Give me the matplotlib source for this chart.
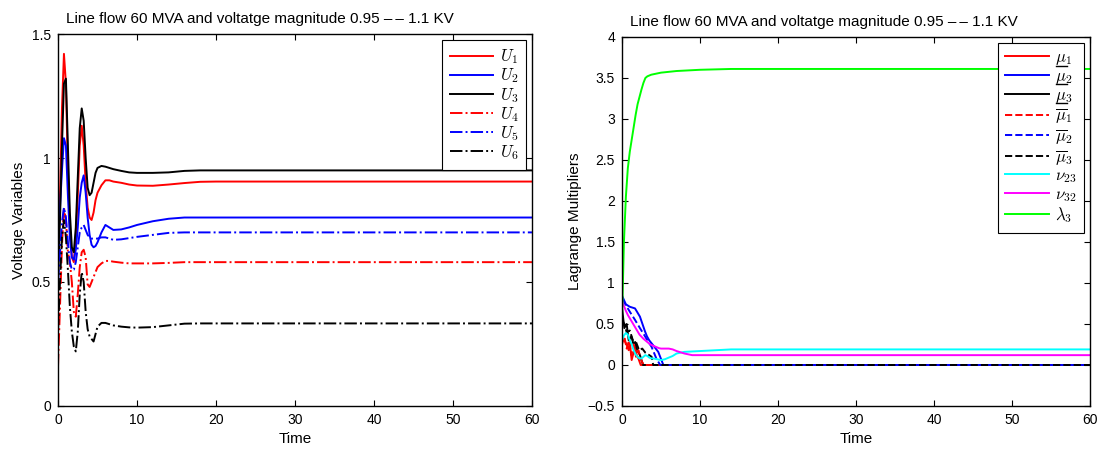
import matplotlib
matplotlib.use("Agg")
import matplotlib.pyplot as plt
from matplotlib.lines import Line2D
from matplotlib.transforms import IdentityTransform

matplotlib.rcParams['font.family'] = 'Liberation Sans'
matplotlib.rcParams['mathtext.fontset'] = 'cm'
matplotlib.rcParams['axes.linewidth'] = 1.0

# ---- left panel: voltage variables ----
t_u = [0, 0.25, 0.5, 0.75, 1.0, 1.25, 1.5, 1.75, 2.0, 2.25, 2.5, 2.75, 3.0, 3.25,
       3.5, 3.75, 4.0, 4.25, 4.5, 4.75, 5.0, 5.5, 6.0, 6.5, 7, 8, 9, 10, 12, 14,
       16, 18, 20, 60]
u1 = [0.60, 0.85, 1.20, 1.42, 1.30, 0.95, 0.72, 0.60, 0.58, 0.68, 0.85, 1.05, 1.13,
      1.05, 0.90, 0.80, 0.76, 0.75, 0.78, 0.83, 0.86, 0.89, 0.91, 0.91, 0.905, 0.90,
      0.893, 0.889, 0.888, 0.893, 0.899, 0.904, 0.905, 0.905]
u2 = [0.70, 0.80, 0.95, 1.08, 1.05, 0.85, 0.68, 0.60, 0.59, 0.63, 0.72, 0.84, 0.90,
      0.93, 0.86, 0.76, 0.69, 0.65, 0.64, 0.645, 0.66, 0.70, 0.73, 0.72, 0.71, 0.712,
      0.72, 0.73, 0.745, 0.755, 0.76, 0.76, 0.76, 0.76]
u3 = [0.50, 0.75, 1.05, 1.30, 1.32, 1.05, 0.78, 0.64, 0.62, 0.72, 0.92, 1.12, 1.20,
      1.15, 1.00, 0.88, 0.85, 0.86, 0.90, 0.94, 0.96, 0.968, 0.965, 0.96, 0.955, 0.948,
      0.942, 0.94, 0.94, 0.942, 0.948, 0.95, 0.95, 0.95]
u4 = [0.16, 0.40, 0.65, 0.80, 0.75, 0.62, 0.58, 0.50, 0.38, 0.36, 0.45, 0.56, 0.62,
      0.63, 0.60, 0.49, 0.48, 0.50, 0.52, 0.54, 0.56, 0.575, 0.585, 0.585, 0.582, 0.578,
      0.575, 0.575, 0.575, 0.577, 0.58, 0.58, 0.58, 0.58]
u5 = [0.50, 0.62, 0.74, 0.80, 0.76, 0.66, 0.58, 0.55, 0.55, 0.58, 0.64, 0.70, 0.72,
      0.73, 0.71, 0.69, 0.68, 0.675, 0.675, 0.675, 0.675, 0.68, 0.68, 0.675, 0.67, 0.672,
      0.677, 0.682, 0.69, 0.698, 0.70, 0.70, 0.70, 0.70]
u6 = [0.30, 0.50, 0.68, 0.75, 0.68, 0.55, 0.40, 0.30, 0.24, 0.22, 0.30, 0.45, 0.54,
      0.50, 0.38, 0.31, 0.28, 0.27, 0.26, 0.29, 0.32, 0.335, 0.335, 0.33, 0.325, 0.32,
      0.317, 0.316, 0.318, 0.325, 0.332, 0.333, 0.333, 0.333]

# ---- right panel: Lagrange multipliers ----
t_lam = t_u
lam3 = [0.55, 1.50, 2.05, 2.40, 2.60, 2.75, 2.90, 3.05, 3.18, 3.27, 3.36, 3.44, 3.50,
        3.52, 3.53, 3.54, 3.545, 3.55, 3.555, 3.56, 3.565, 3.57, 3.575, 3.58, 3.585,
        3.59, 3.595, 3.60, 3.605, 3.61, 3.61, 3.61, 3.61, 3.61]
nu23 = [0.30, 0.36, 0.39, 0.37, 0.30, 0.25, 0.18, 0.13, 0.10, 0.08, 0.08, 0.10, 0.12,
        0.11, 0.09, 0.08, 0.08, 0.075, 0.07, 0.065, 0.06, 0.07, 0.09, 0.11, 0.14, 0.16,
        0.165, 0.17, 0.18, 0.19, 0.19, 0.19, 0.19, 0.19]
nu32 = [0.78, 0.72, 0.66, 0.61, 0.57, 0.53, 0.49, 0.45, 0.41, 0.37, 0.345, 0.32, 0.30,
        0.28, 0.26, 0.245, 0.235, 0.225, 0.215, 0.205, 0.20, 0.20, 0.20, 0.19, 0.17,
        0.14, 0.12, 0.12, 0.12, 0.12, 0.12, 0.12, 0.12, 0.12]

t_mu1 = [0, 0.3, 0.6, 0.86, 1.0, 1.24, 1.67, 1.9, 2.1, 2.4, 60]
mu1 = [0.30, 0.30, 0.25, 0.18, 0.28, 0.06, 0.22, 0.12, 0.08, 0, 0]
t_mu2 = [0, 0.17, 0.5, 1.0, 1.67, 2.3, 2.95, 3.2, 3.5, 4.0, 4.65, 5.1, 5.3, 60]
mu2 = [0.85, 0.81, 0.74, 0.71, 0.69, 0.59, 0.41, 0.35, 0.30, 0.24, 0.16, 0.05, 0, 0]
t_mu3 = [0, 0.3, 0.6, 0.86, 1.2, 1.45, 1.7, 1.9, 2.3, 2.7, 60]
mu3 = [0.70, 0.45, 0.50, 0.30, 0.35, 0.26, 0.28, 0.20, 0.12, 0, 0]
t_mub1 = [0, 0.3, 0.6, 0.9, 1.2, 1.5, 1.8, 2.1, 2.5, 2.8, 60]
mub1 = [0.25, 0.35, 0.20, 0.30, 0.12, 0.25, 0.10, 0.18, 0.05, 0, 0]
t_mub2 = [0, 0.3, 1.0, 1.67, 2.3, 2.95, 3.4, 3.8, 4.4, 4.9, 60]
mub2 = [0.80, 0.76, 0.65, 0.55, 0.45, 0.35, 0.28, 0.22, 0.08, 0, 0]
t_mub3 = [0, 0.3, 0.6, 1.0, 1.4, 1.8, 2.2, 2.6, 3.0, 3.5, 3.8, 4.0, 60]
mub3 = [0.55, 0.50, 0.40, 0.42, 0.30, 0.28, 0.18, 0.20, 0.15, 0.12, 0.10, 0, 0]

title = 'Line flow 60 MVA and voltatge magnitude 0.95 \u2013\u2009\u2013 1.1 KV'


def style_axes(ax):
    ax.tick_params(direction='in', top=True, right=True, length=4, width=0.8,
                   labelsize=10, pad=5)


def main():
    fig = plt.figure(figsize=(11.03, 4.51), dpi=100)
    ax1 = fig.add_axes([0.0526, 0.0998, 0.4297, 0.8248])
    ax2 = fig.add_axes([0.5639, 0.0998, 0.4243, 0.8182])

    lw = 1.4
    ax1.plot(t_u, u1, color='#ff0000', lw=lw, label='$U_1$')
    ax1.plot(t_u, u2, color='#0000ff', lw=lw, label='$U_2$')
    ax1.plot(t_u, u3, color='#000000', lw=lw, label='$U_3$')
    ax1.plot(t_u, u4, color='#ff0000', lw=lw, ls='-.', label='$U_4$')
    ax1.plot(t_u, u5, color='#0000ff', lw=lw, ls='-.', label='$U_5$')
    ax1.plot(t_u, u6, color='#000000', lw=lw, ls='-.', label='$U_6$')
    ax1.set_xlim(0, 60)
    ax1.set_ylim(0, 1.5)
    ax1.set_xticks(range(0, 61, 10))
    ax1.set_yticks([0, 0.5, 1, 1.5])
    ax1.set_yticklabels(['0', '0.5', '1', '1.5'])
    ax1.set_xlabel('Time', fontsize=11, labelpad=4)
    ax1.set_ylabel('Voltage Variables', fontsize=11, labelpad=4)
    ax1.set_title(title, fontsize=11, pad=8, x=0.426)
    style_axes(ax1)

    ax2.plot(t_mu1, mu1, color='#ff0000', lw=lw, label=r'$\mu_1$')
    ax2.plot(t_mu2, mu2, color='#0000ff', lw=lw, label=r'$\mu_2$')
    ax2.plot(t_mu3, mu3, color='#000000', lw=lw, label=r'$\mu_3$')
    ax2.plot(t_mub1, mub1, color='#ff0000', lw=lw, ls='--', label=r'$\overline{\mu}_1$')
    ax2.plot(t_mub2, mub2, color='#0000ff', lw=lw, ls='--', label=r'$\overline{\mu}_2$')
    ax2.plot(t_mub3, mub3, color='#000000', lw=lw, ls='--', label=r'$\overline{\mu}_3$')
    ax2.plot(t_lam, nu23, color='#00ffff', lw=lw, label=r'$\nu_{23}$')
    ax2.plot(t_lam, nu32, color='#ff00ff', lw=lw, label=r'$\nu_{32}$')
    ax2.plot(t_lam, lam3, color='#00ff00', lw=lw, label=r'$\lambda_3$')
    ax2.set_xlim(0, 60)
    ax2.set_ylim(-0.5, 4)
    ax2.set_xticks(range(0, 61, 10))
    ax2.set_yticks([-0.5, 0, 0.5, 1, 1.5, 2, 2.5, 3, 3.5, 4])
    ax2.set_yticklabels(['\u22120.5', '0', '0.5', '1', '1.5', '2', '2.5', '3', '3.5', '4'])
    ax2.set_xlabel('Time', fontsize=11, labelpad=4)
    ax2.set_ylabel('Lagrange Multipliers', fontsize=11, labelpad=4)
    ax2.set_title(title, fontsize=11, pad=8, x=0.432)
    style_axes(ax2)

    legends = []
    for ax, spacing in ((ax1, 0.02), (ax2, 0.1)):
        leg = ax.legend(loc='upper right', fontsize=12, fancybox=False, framealpha=1,
                        edgecolor='black', handlelength=2.6, handletextpad=0.4,
                        labelspacing=spacing, borderpad=0.45, borderaxespad=0.35)
        leg.get_frame().set_linewidth(0.8)
        legends.append(leg)

    # underline the lower-bound multipliers (mathtext has no \underline)
    fig.canvas.draw()
    renderer = fig.canvas.get_renderer()
    probe = fig.text(0, 0, r'$\mu$', fontsize=12)
    mu_w = probe.get_window_extent(renderer).width
    probe.remove()
    for txt in legends[1].get_texts()[:3]:
        bb = txt.get_window_extent(renderer)
        y = bb.y0 + 1.5
        fig.add_artist(Line2D([bb.x0 + 0.5, bb.x0 + mu_w], [y, y], color='black',
                              lw=1.0, transform=IdentityTransform()))

    fig.savefig('out.png', dpi=100)


if __name__ == '__main__':
    main()
